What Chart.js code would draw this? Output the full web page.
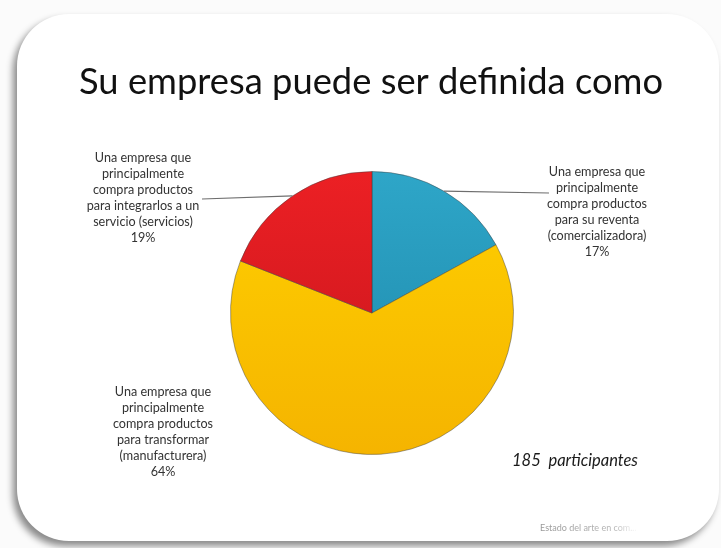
<!DOCTYPE html>
<html>
<head>
<meta charset="utf-8">
<script src="https://cdn.jsdelivr.net/npm/chart.js@4"></script>
<style>
  html, body { margin: 0; padding: 0; background: #ffffff; }
  #wrap { position: relative; width: 721px; height: 548px; overflow: hidden; background: #fbfbfb; }
  #card {
    position: absolute; left: 17px; top: 14px; width: 702px; height: 527px;
    background: #ffffff; border-radius: 52px;
    box-shadow: -4px 5px 7px rgba(0,0,0,0.45);
  }
  #pieChart { position: absolute; left: 0; top: 0; }
</style>
</head>
<body>
<div id="wrap">
  <div id="card"></div>
  <canvas id="pieChart" width="721" height="548"></canvas>
</div>
<script>
// chart data
const chartTitle = 'Su empresa puede ser definida como';
const categories = ['comercializadora', 'manufacturera', 'servicios'];
const percentages = [17, 64, 19];
const labelLines = [
    ['Una empresa que', 'principalmente', 'compra productos', 'para su reventa', '(comercializadora)'],
    ['Una empresa que', 'principalmente', 'compra productos', 'para transformar', '(manufacturera)'],
    ['Una empresa que', 'principalmente', 'compra productos', 'para integrarlos a un', 'servicio (servicios)']
];
const sliceColors = [['#2ea6c8', '#1d86a8'], ['#ffd000', '#f5b400'], ['#ec2024', '#c4141c']];
const participantsNote = '185  participantes';
const footerNote = 'Estado del arte en com';

// where each label block sits, and whether it gets a leader line
const labelBoxes = [
    {x: 597, y: 176, leader: {x: 549, y: 193}},
    {x: 163, y: 396, leader: null},
    {x: 143, y: 162, leader: {x: 202, y: 199}}
];

const canvas = document.getElementById('pieChart');
const ctx = canvas.getContext('2d');

function sliceFill(context) {
    const chart = context.chart;
    const area = chart.chartArea;
    if (!area) return sliceColors[context.dataIndex][0];
    const g = chart.ctx.createLinearGradient(0, area.top, 0, area.bottom);
    g.addColorStop(0, sliceColors[context.dataIndex][0]);
    g.addColorStop(1, sliceColors[context.dataIndex][1]);
    return g;
}

const slideText = {
    id: 'slideText',
    afterDraw(chart) {
        const c = chart.ctx;
        c.save();
        // title
        c.fillStyle = '#111111';
        c.font = '37px Lato, "Open Sans", sans-serif';
        c.textAlign = 'center';
        c.textBaseline = 'alphabetic';
        c.fillText(chartTitle, 371, 94, 584);

        // slice labels and leader lines
        const arcs = chart.getDatasetMeta(0).data;
        c.font = '12.6px Lato, "Open Sans", sans-serif';
        c.fillStyle = '#333333';
        labelBoxes.forEach((box, i) => {
            const lines = labelLines[i].concat([percentages[i] + '%']);
            lines.forEach((t, k) => c.fillText(t, box.x, box.y + k * 16));
            if (box.leader) {
                const a = arcs[i];
                const mid = (a.startAngle + a.endAngle) / 2;
                const px = a.x + Math.cos(mid) * a.outerRadius;
                const py = a.y + Math.sin(mid) * a.outerRadius;
                c.strokeStyle = '#6e6e6e';
                c.lineWidth = 1.2;
                c.beginPath();
                c.moveTo(box.leader.x, box.leader.y);
                c.lineTo(px, py);
                c.stroke();
            }
        });

        // participants note
        c.font = 'italic 16.5px Lato, "Open Sans", sans-serif';
        c.fillStyle = '#1a1a1a';
        c.textAlign = 'left';
        c.fillText(participantsNote, 512, 466);

        // footer
        const fg = c.createLinearGradient(540, 0, 640, 0);
        fg.addColorStop(0, '#9a9a9a');
        fg.addColorStop(0.75, '#b8b8b8');
        fg.addColorStop(1, 'rgba(200,200,200,0)');
        c.font = '9px Lato, "Open Sans", sans-serif';
        c.fillStyle = fg;
        c.fillText(footerNote + '...', 540, 531);
        c.restore();
    }
};

const data = {
    labels: categories,
    datasets: [{
        data: percentages,
        backgroundColor: sliceFill,
        borderColor: 'rgba(60,60,60,0.45)',
        borderWidth: 1
    }]
};

const config = {
    type: 'pie',
    data: data,
    options: {
        responsive: false,
        animation: false,
        layout: {padding: {left: 230, right: 207, top: 171, bottom: 93}},
        plugins: {
            legend: {display: false},
            tooltip: {enabled: false},
            title: {display: false}
        }
    },
    plugins: [slideText]
};

const pieChart = new Chart(ctx, config);
</script>
</body>
</html>
